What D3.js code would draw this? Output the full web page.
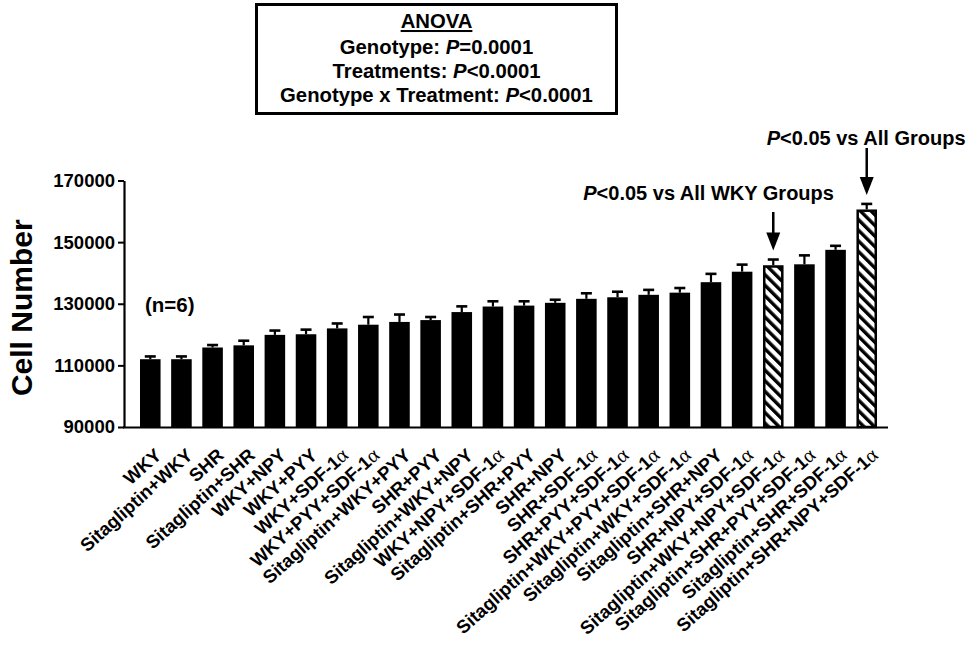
<!DOCTYPE html>
<html>
<head>
<meta charset="utf-8">
<script src="https://cdn.jsdelivr.net/npm/d3@7"></script>
<style>
  html, body { margin: 0; padding: 0; background: #fff; }
  svg { display: block; font-family: "Liberation Sans", Arial, Helvetica, sans-serif; }
</style>
</head>
<body>
<svg id="chart" width="968" height="645"></svg>
<script>
// Groups, ordered by mean cell number
const categories = [
  "WKY", "Sitagliptin+WKY", "SHR", "Sitagliptin+SHR", "WKY+NPY", "WKY+PYY",
  "WKY+SDF-1α", "WKY+PYY+SDF-1α", "Sitagliptin+WKY+PYY", "SHR+PYY",
  "Sitagliptin+WKY+NPY", "WKY+NPY+SDF-1α", "Sitagliptin+SHR+PYY", "SHR+NPY",
  "SHR+SDF-1α", "SHR+PYY+SDF-1α", "Sitagliptin+WKY+PYY+SDF-1α",
  "Sitagliptin+WKY+SDF-1α", "Sitagliptin+SHR+NPY", "SHR+NPY+SDF-1α",
  "Sitagliptin+WKY+NPY+SDF-1α", "Sitagliptin+SHR+PYY+SDF-1α",
  "Sitagliptin+SHR+SDF-1α", "Sitagliptin+SHR+NPY+SDF-1α"
];
// Mean cell number per group
const means = [
  112000, 112000, 115800, 116500, 119900, 120100,
  122000, 123200, 124100, 124700,
  127300, 129100, 129400, 130300,
  131600, 132100, 132900,
  133600, 137000, 140400,
  142500, 142800,
  147500, 160600
];
// SEM per group
const sems = [
  900, 900, 800, 1500, 1400, 1500,
  1600, 2500, 2400, 1000,
  1850, 1700, 1400, 1000,
  1800, 1800, 1600,
  1500, 2700, 2300,
  1850, 2900,
  1300, 1800
];
const yTicks = [90000, 110000, 130000, 150000, 170000];
const yLabel = "Cell Number";
const sampleNote = "(n=6)";
// Significant groups (drawn hatched) and their notes
const sigGroups = ["Sitagliptin+WKY+NPY+SDF-1α", "Sitagliptin+SHR+NPY+SDF-1α"];
const sigNotes = ["<0.05 vs All WKY Groups", "<0.05 vs All Groups"];
const anovaTitle = "ANOVA";
const anovaTerms = ["Genotype: ", "Treatments: ", "Genotype x Treatment: "];
const anovaStats = ["=0.0001", "<0.0001", "<0.0001"];

const svg = d3.select("#chart");
const FONT = '"Liberation Sans", Arial, Helvetica, sans-serif';

const x = d3.scaleBand().domain(categories).range([140, 877]).paddingInner(0.34).paddingOuter(0);
const y = d3.scaleLinear().domain([90000, 170000]).range([427, 180.5]);
const rows = categories.map((c, i) => ({ cat: c, mean: means[i], sem: sems[i], sig: sigGroups.includes(c) }));

// hatch pattern
const defs = svg.append("defs");
defs.append("pattern")
  .attr("id", "hatch").attr("patternUnits", "userSpaceOnUse")
  .attr("width", 7.5).attr("height", 7.5)
  .attr("patternTransform", "rotate(-45)")
  .append("rect").attr("x", 0).attr("y", 0).attr("width", 3.4).attr("height", 7.5).attr("fill", "#000");

// ANOVA box
const box = svg.append("g");
box.append("rect").attr("x", 256.5).attr("y", 4.5).attr("width", 360).attr("height", 109)
  .attr("fill", "#fff").attr("stroke", "#000").attr("stroke-width", 3);
const bx = 436.5;
box.append("text").attr("x", bx).attr("y", 28).attr("text-anchor", "middle")
  .attr("font-size", 20.3).attr("font-weight", "bold").attr("text-decoration", "underline")
  .text(anovaTitle);
anovaTerms.forEach((t, i) => {
  const tx = box.append("text").attr("x", bx).attr("y", 53.5 + i * 24).attr("text-anchor", "middle")
    .attr("font-size", 20.3).attr("font-weight", "bold");
  tx.append("tspan").text(t);
  tx.append("tspan").attr("font-style", "italic").text("P");
  tx.append("tspan").text(anovaStats[i]);
});

// Y axis
const yAxis = svg.append("g").attr("transform", "translate(124,0)")
  .call(d3.axisLeft(y).tickValues(yTicks).tickFormat(d3.format("d")).tickSize(6).tickSizeOuter(0).tickPadding(3));
yAxis.select(".domain").attr("stroke-width", 2.2);
yAxis.selectAll(".tick line").attr("stroke-width", 2);
yAxis.selectAll(".tick text").attr("font-size", 18.5).attr("font-weight", "bold")
  .attr("font-family", FONT).attr("fill", "#000");

svg.append("text")
  .attr("transform", `translate(32,${y(130000) + 4}) rotate(-90)`)
  .attr("text-anchor", "middle").attr("font-size", 30).attr("font-weight", "bold")
  .text(yLabel);

// Bars
const bw = x.bandwidth();
svg.append("g").selectAll("rect").data(rows.filter(d => !d.sig)).join("rect")
  .attr("x", d => x(d.cat)).attr("y", d => y(d.mean))
  .attr("width", bw).attr("height", d => y(90000) - y(d.mean))
  .attr("fill", "#000");

const hatched = svg.append("g").selectAll("g").data(rows.filter(d => d.sig)).join("g");
hatched.append("rect")
  .attr("x", d => x(d.cat) + 1.25).attr("y", d => y(d.mean) + 1.25)
  .attr("width", bw - 2.5).attr("height", d => y(90000) - y(d.mean) - 1.25)
  .attr("fill", "#fff");
hatched.append("rect")
  .attr("x", d => x(d.cat) + 1.25).attr("y", d => y(d.mean) + 1.25)
  .attr("width", bw - 2.5).attr("height", d => y(90000) - y(d.mean) - 1.25)
  .attr("fill", "url(#hatch)").attr("stroke", "#000").attr("stroke-width", 2.5);

// Error bars (upper)
const eb = svg.append("g").attr("stroke", "#000");
eb.selectAll("line.v").data(rows).join("line").attr("class", "v")
  .attr("x1", d => x(d.cat) + bw / 2).attr("x2", d => x(d.cat) + bw / 2)
  .attr("y1", d => y(d.mean)).attr("y2", d => y(d.mean + d.sem))
  .attr("stroke-width", 2.2);
eb.selectAll("line.c").data(rows).join("line").attr("class", "c")
  .attr("x1", d => x(d.cat) + bw / 2 - 5.5).attr("x2", d => x(d.cat) + bw / 2 + 5.5)
  .attr("y1", d => y(d.mean + d.sem)).attr("y2", d => y(d.mean + d.sem))
  .attr("stroke-width", 2.6);

// X axis line
svg.append("line").attr("x1", 123).attr("x2", 888).attr("y1", 427.5).attr("y2", 427.5)
  .attr("stroke", "#000").attr("stroke-width", 2.2);

// X labels
const xl = svg.append("g").selectAll("text").data(categories).join("text")
  .attr("transform", d => `translate(${x(d) + bw / 2 + 3.5},447) rotate(-42)`)
  .attr("dy", "0.72em").attr("text-anchor", "end")
  .attr("font-size", 18.5).attr("font-weight", "bold");
xl.each(function (d) {
  const t = d3.select(this);
  const parts = d.split("α");
  t.append("tspan").text(parts[0]);
  if (parts.length > 1) {
    t.append("tspan").attr("font-family", '"Liberation Serif", "DejaVu Serif", serif')
      .attr("font-weight", "normal").attr("font-size", 20.5).text("α");
  }
});

// Sample size note
svg.append("text").attr("x", 145).attr("y", 312).attr("font-size", 20.5).attr("font-weight", "bold")
  .text(sampleNote);

// Significance notes with arrows
const noteOffsets = [{ dx: -190, baseline: 200, top: 212 }, { dx: -100, baseline: 145, top: 148 }];
sigGroups.forEach((g, i) => {
  const cx = x(g) + bw / 2;
  const o = noteOffsets[i];
  const k = categories.indexOf(g);
  const tip = y(means[k] + sems[k]) - 9;
  const t = svg.append("text").attr("x", cx + o.dx).attr("y", o.baseline)
    .attr("font-size", 20).attr("font-weight", "bold");
  t.append("tspan").attr("font-style", "italic").text("P");
  t.append("tspan").text(sigNotes[i]);
  svg.append("line").attr("x1", cx).attr("x2", cx).attr("y1", o.top).attr("y2", tip - 14)
    .attr("stroke", "#000").attr("stroke-width", 2.5);
  svg.append("path").attr("d", `M${cx - 7},${tip - 18} L${cx + 7},${tip - 18} L${cx},${tip} Z`)
    .attr("fill", "#000");
});
</script>
</body>
</html>
